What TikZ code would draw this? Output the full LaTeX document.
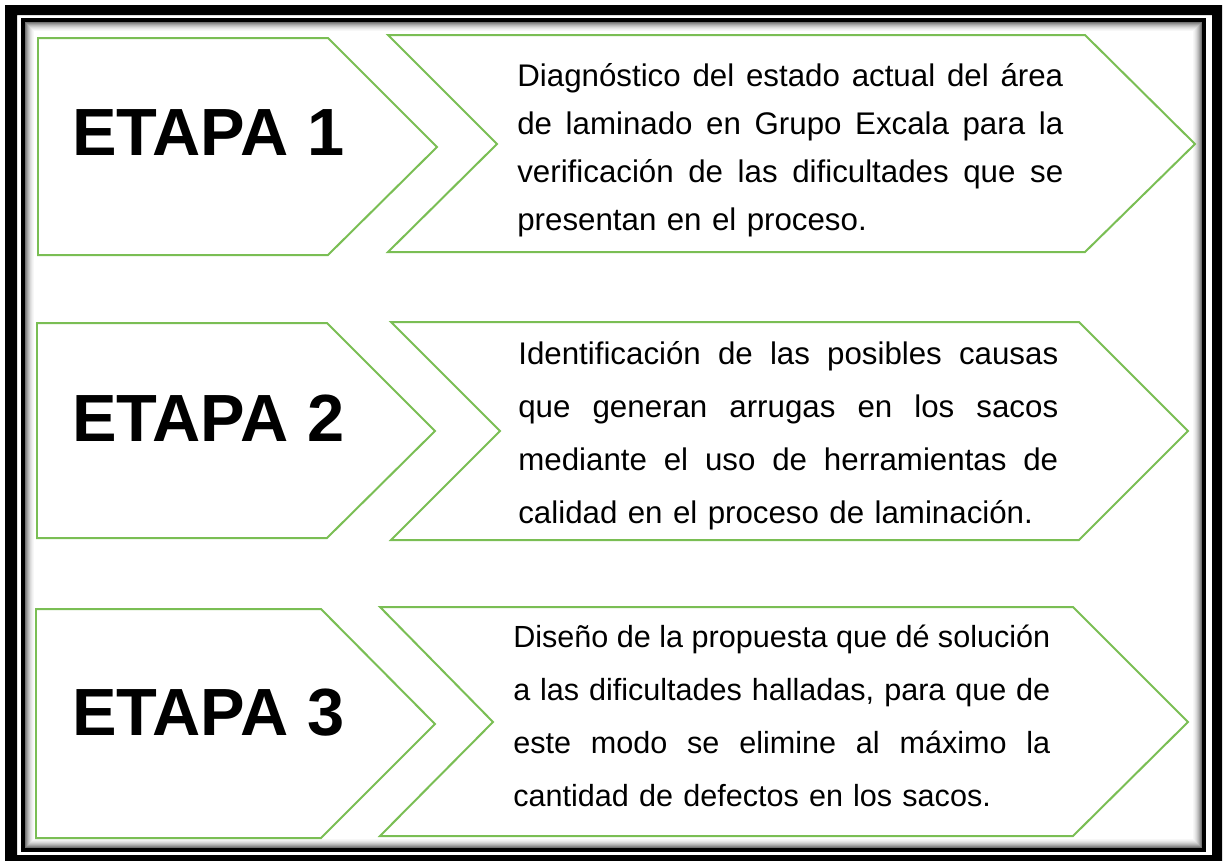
\documentclass[tikz,border=0pt]{standalone}
\usepackage{fontspec}
\setmainfont{Liberation Sans}
\usepackage{tikz}
\setlength{\parindent}{0pt}
\definecolor{verde}{RGB}{122,190,84}
\newcommand{\renglon}[2]{\makebox[#1][s]{\spaceskip=0.278em plus 1fil minus 0.1em\relax #2}}
\tikzset{
	flecha/.style={draw=verde, line width=0.04cm, fill=white, line join=miter},
	etapa/.style={font=\bfseries\fontsize{38}{42}\selectfont, inner sep=0pt, anchor=west},
	texto/.style={inner sep=0pt, anchor=west, align=left},
}

\begin{document}
\begin{tikzpicture}[x=0.02cm, y=-0.02cm]
			\useasboundingbox (0,0) rectangle (1225,860);
			% marco
			\fill[black, even odd rule] (5,5) rectangle (1222,870) (17,15) rectangle (1212,855);
			\draw[black, line width=0.08cm] (23,20) rectangle (1204,850);
			\foreach \i/\g in {1/55,2/45,3/36,4/28,5/21,6/15,7/10,8/6,9/3}
				\draw[black!\g, line width=0.02cm] (24.5+\i,21.5+\i) rectangle (1202.5-\i,848.5-\i);
			% etapa 1
			\draw[flecha] (38,38) -- (328,38) -- (437,147) -- (328,255) -- (38,255) -- cycle;
			\draw[flecha] (388,35) -- (1085,35) -- (1195,144) -- (1085,252) -- (388,252) -- (497,144) -- cycle;
			% etapa 2
			\draw[flecha] (37,323) -- (327,323) -- (435,431) -- (327,538) -- (37,538) -- cycle;
			\draw[flecha] (391,322) -- (1079,322) -- (1188,431) -- (1079,540) -- (391,540) -- (500,431) -- cycle;
			% etapa 3
			\draw[flecha] (36,609) -- (321,609) -- (435,724) -- (321,838) -- (36,838) -- cycle;
			\draw[flecha] (380,607) -- (1073,607) -- (1188,722) -- (1073,836) -- (380,836) -- (493,722) -- cycle;
			\node	(e1) at (72,133) [etapa] {ETAPA 1};
			\node	(e2) at (72,418) [etapa] {ETAPA 2};
			\node	(e3) at (72,713) [etapa] {ETAPA 3};
			\node	(t1) at (517,150) [texto, text width=10.92cm, font=\fontsize{17.8}{27.3}\selectfont]
				{\renglon{10.92cm}{Diagnóstico del estado actual del área}\\
				\renglon{10.92cm}{de laminado en Grupo Excala para la}\\
				\renglon{10.92cm}{verificación de las dificultades que se}\\
				presentan en el proceso.};
			\node	(t2) at (518,436) [texto, text width=10.8cm, font=\fontsize{17.8}{30.2}\selectfont]
				{\renglon{10.8cm}{Identificación de las posibles causas}\\
				\renglon{10.8cm}{que generan arrugas en los sacos}\\
				\renglon{10.8cm}{mediante el uso de herramientas de}\\
				calidad en el proceso de laminación.};
			\node	(t3) at (513,716) [texto, text width=10.74cm, font=\fontsize{17.4}{30.2}\selectfont]
				{\renglon{10.74cm}{Diseño de la propuesta que dé solución}\\
				\renglon{10.74cm}{a las dificultades halladas, para que de}\\
				\renglon{10.74cm}{este modo se elimine al máximo la}\\
				cantidad de defectos en los sacos.};
\end{tikzpicture}
\end{document}
